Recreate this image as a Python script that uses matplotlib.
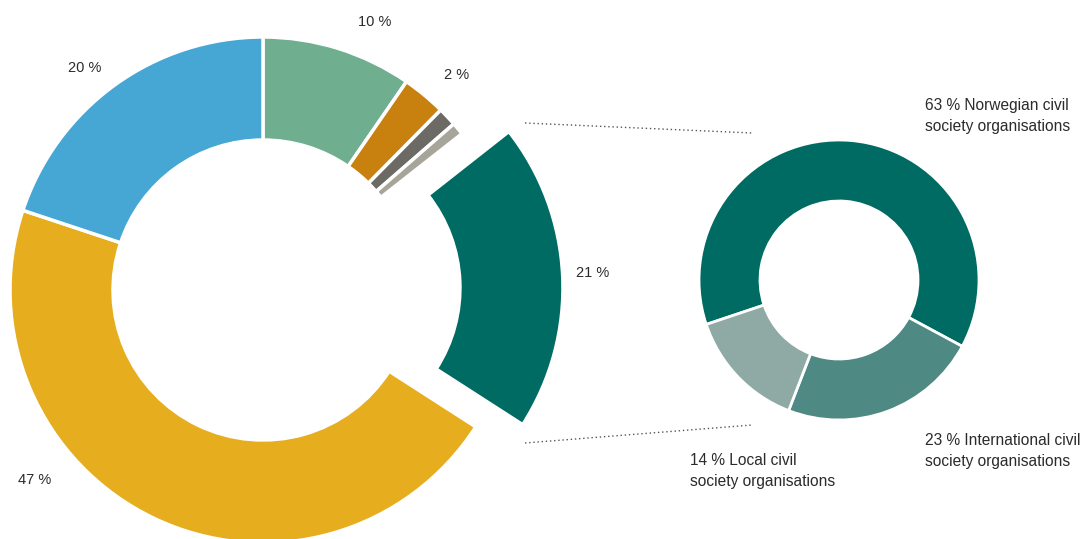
#!/usr/bin/env python3
"""Donut chart with an exploded slice broken down in a second donut."""

import matplotlib

matplotlib.use('Agg')
import matplotlib.pyplot as plt

# main donut, clockwise from 12 o'clock
main_values = [9.6, 2.8, 1.2, 0.8, 19.7, 46.0, 19.9]
main_labels = ['10 %', '2 %', '', '', '21 %', '47 %', '20 %']
main_colors = ['#6fae8e', '#c8810f', '#6b6a64', '#a7a49a', '#006b62',
               '#e6ae1e', '#46a6d4']

# breakdown of the exploded slice
sub_values = [63, 23, 14]
sub_labels = ['63 % Norwegian civil\nsociety organisations',
              '23 % International civil\nsociety organisations',
              '14 % Local civil\nsociety organisations']
sub_colors = ['#006b62', '#4f8984', '#8fa9a5']

W, H = 1088, 539
TEXT = '#2b2b2b'
plt.rcParams['font.family'] = ['Liberation Sans', 'DejaVu Sans']


def py(y):
    # pixel row (top-down) to data y
    return H - y


fig = plt.figure(figsize=(W / 100, H / 100), dpi=100)
ax = fig.add_axes([0, 0, 1, 1])

explode = [0, 0, 0, 0, 47, 0, 0]
ax.pie(main_values, colors=main_colors, startangle=90, counterclock=False,
       center=(263, py(290)), radius=253, explode=explode, frame=True,
       wedgeprops=dict(width=103, edgecolor='white', linewidth=2.5))

ax.pie(sub_values, colors=sub_colors, startangle=198.5, counterclock=False,
       center=(839, py(280)), radius=140, frame=True,
       wedgeprops=dict(width=61, edgecolor='white', linewidth=2))

# percentage labels of the main donut
main_pos = [(375, 22), (457, 75), None, None, (593, 273), (35, 480), (85, 68)]
for lab, pos in zip(main_labels, main_pos):
    if lab and pos:
        ax.text(pos[0], py(pos[1]), lab, ha='center', va='center',
                fontsize=10.5, color=TEXT)

sub_pos = [(925, 116), (925, 451), (690, 471)]
for lab, pos in zip(sub_labels, sub_pos):
    ax.text(pos[0], py(pos[1]), lab, ha='left', va='center',
            fontsize=11.2, color=TEXT, linespacing=1.45)

# connector lines
ax.plot([525, 752], [py(123), py(133)], color='#555555', lw=1,
        linestyle=(0, (1, 2)))
ax.plot([525, 752], [py(443), py(425)], color='#555555', lw=1,
        linestyle=(0, (1, 2)))

ax.set_xlim(0, W)
ax.set_ylim(0, H)
ax.set_aspect('equal')
ax.axis('off')

fig.savefig('out.png', dpi=100, facecolor='white')
